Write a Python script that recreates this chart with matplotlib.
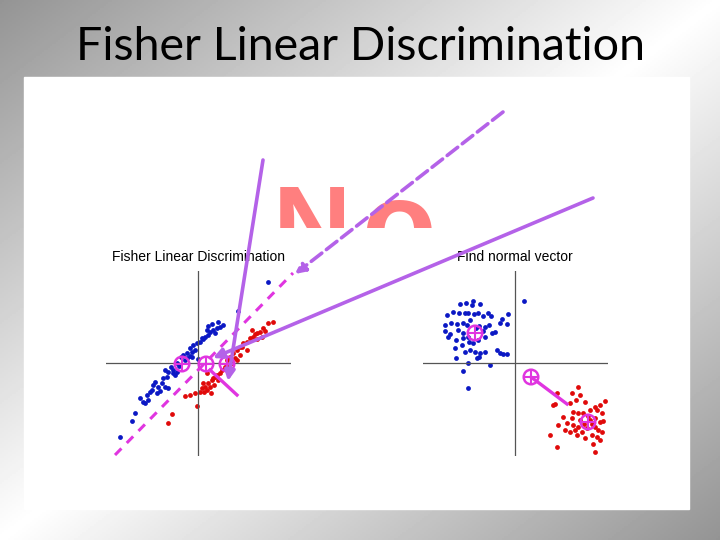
import numpy as np
import matplotlib
matplotlib.use("Agg")
import matplotlib.pyplot as plt

W, H = 720, 540

slide_title = "Fisher Linear Discrimination"
left_title = "Fisher Linear Discrimination"
right_title = "Find normal vector"
watermark = ["N", "o"]

# left panel: two elongated classes (x, y)
left_blue = np.array([
    (7.0, 8.1), (4.0, 5.2), (2.5, 3.8), (2.2, 3.6), (1.9, 3.5), (1.5, 3.3), (1.2, 3.1),
    (1.7, 3.0), (1.0, 2.8), (0.7, 2.6), (0.5, 2.4), (0.9, 3.3), (0.2, 2.1), (-0.1, 2.0),
    (-0.5, 1.8), (-0.8, 1.5), (-0.3, 1.3), (-0.6, 1.1), (-1.1, 1.0), (-1.5, 0.8), (-0.8, 0.7),
    (-1.7, 0.6), (-1.1, 0.5), (-0.6, 0.6), (0.0, 0.4), (-2.1, 0.0), (-2.5, -0.7), (-2.1, -0.9),
    (-3.0, -0.9), (-3.3, -0.7), (-2.3, -1.2), (-3.1, -1.4), (-3.5, -1.5), (-2.5, -1.0),
    (-3.6, -2.0), (-4.0, -2.4), (-3.3, -2.4), (-4.5, -2.2), (-4.6, -2.7), (-5.1, -3.2),
    (-5.5, -3.9), (-5.0, -3.7), (-4.1, -3.0), (-6.3, -5.0), (-6.6, -5.8), (-7.8, -7.4),
    (-3.0, -2.5), (-3.8, -2.8), (-5.3, -4.0), (0.4, 2.5), (-1.3, 0.3), (-1.9, -0.3),
    (-2.7, -0.4), (-4.3, -1.9), (-4.8, -2.9), (-5.8, -3.5), (1.4, 3.9), (2.0, 4.1), (1.0, 3.7),
])
left_red = np.array([
    (7.5, 4.1), (7.0, 4.0), (6.5, 3.5), (6.2, 3.1), (5.9, 3.0), (5.5, 2.6), (5.2, 2.5),
    (4.9, 2.1), (4.5, 2.0), (4.2, 1.6), (3.9, 1.3), (3.5, 1.0), (3.2, 0.6), (2.9, 0.3),
    (2.7, -0.4), (2.4, -0.7), (2.2, -1.0), (1.7, -1.4), (1.4, -1.7), (1.0, -2.0), (0.7, -2.4),
    (0.4, -2.5), (0.2, -2.9), (0.9, -2.7), (1.2, -2.4), (0.5, -2.0), (0.9, -1.0), (-0.3, -3.0),
    (-0.8, -3.2), (-1.3, -3.3), (-0.1, -4.3), (-2.6, -5.1), (-3.0, -6.0), (3.4, 0.0),
    (3.9, 0.3), (4.2, 0.8), (5.4, 3.3), (5.7, 2.9), (6.7, 3.2), (5.9, 2.4), (6.4, 2.6),
    (4.9, 1.3), (4.4, 1.6), (3.7, 0.5), (3.0, -0.4), (1.9, -1.2), (1.5, -1.5), (2.0, -1.7),
    (1.6, -2.2), (0.6, -2.9), (1.3, -3.0),
])
left_means = np.array([(-1.6, -0.1), (0.8, -0.1), (2.9, -0.1)])
left_dash = np.array([(-8.3, -9.2), (9.5, 9.0)])
left_normal = np.array([(1.2, -0.7), (3.9, -3.2)])

# right panel: two round classes
right_blue = np.array([
    (0.9, 6.2), (-5.5, 5.9), (-4.9, 6.0), (-4.2, 6.2), (-3.5, 5.9), (-4.3, 5.8), (-6.8, 4.8),
    (-5.6, 5.0), (-5.0, 5.0), (-4.7, 5.0), (-4.1, 4.9), (-3.7, 5.0), (-3.2, 4.7), (-2.7, 5.0),
    (-2.4, 4.7), (-0.7, 4.9), (-7.0, 3.8), (-6.4, 4.0), (-5.8, 3.9), (-5.2, 4.0), (-4.8, 3.8),
    (-3.6, 3.7), (-3.0, 3.6), (-2.6, 3.8), (-1.5, 4.0), (-1.3, 4.4), (-0.8, 3.9), (-7.0, 3.2),
    (-6.5, 2.9), (-5.7, 3.3), (-5.2, 3.0), (-3.2, 3.2), (-2.3, 3.0), (-2.0, 3.1), (-6.7, 2.6),
    (-5.9, 2.3), (-5.2, 2.5), (-4.7, 2.6), (-4.6, 2.1), (-4.2, 2.0), (-3.7, 2.3), (-3.0, 2.6),
    (-5.3, 1.8), (-6.0, 1.5), (-5.0, 1.1), (-4.5, 1.3), (-4.0, 1.1), (-3.5, 1.0), (-3.0, 1.1),
    (-3.6, 0.6), (-3.8, 0.5), (-1.8, 1.3), (-1.5, 1.0), (-1.2, 0.9), (-0.8, 0.9), (-5.9, 0.5),
    (-4.7, 0.0), (-2.5, -0.2), (-5.2, -0.8), (-4.7, -2.5), (-6.2, 5.1), (-4.5, 4.3), (-3.9, 3.5),
])
right_red = np.array([
    (4.2, -3.0), (6.3, -2.4), (5.7, -3.0), (6.5, -3.2), (6.1, -3.7), (7.0, -3.9), (4.0, -4.1),
    (5.5, -4.0), (9.0, -3.8), (8.5, -4.2), (8.0, -4.4), (5.8, -4.9), (6.3, -5.0), (6.8, -5.0),
    (7.5, -4.7), (8.2, -4.7), (8.7, -5.0), (4.8, -5.4), (5.7, -5.5), (6.5, -5.7), (8.0, -5.5),
    (8.5, -5.9), (8.8, -5.8), (4.3, -6.2), (5.2, -6.0), (5.8, -6.2), (6.3, -6.4), (6.0, -6.7),
    (6.7, -6.9), (7.2, -6.5), (8.0, -6.4), (8.3, -6.7), (8.7, -6.9), (5.0, -6.7), (5.5, -6.9),
    (7.7, -7.2), (8.2, -7.4), (8.5, -7.7), (3.5, -7.2), (4.2, -8.4), (6.2, -7.2), (8.0, -8.9),
    (7.0, -7.5), (3.8, -4.2), (7.5, -5.7), (6.9, -6.1), (7.7, -6.1), (7.3, -5.3), (7.8, -8.1),
])
right_means = np.array([(-4.0, 3.0), (7.3, -5.9), (1.6, -1.4)])
right_normal = np.array([(1.6, -1.4), (5.2, -4.1)])

# slide annotations (pixel positions on the slide): start, end, style
slide_arrows = [
    ((263, 160), (228, 381), "-"),
    ((593, 198), (213, 358), "-"),
    ((503, 112), (295, 274), "--"),
]

fig = plt.figure(figsize=(W / 100, H / 100), dpi=100)

# gray diagonal gradient background
bg = fig.add_axes([0, 0, 1, 1])
gx, gy = np.meshgrid(np.linspace(0, 1, 360), np.linspace(0, 1, 270))
t = np.abs((gx + gy) - 1.0)
bg.imshow(1 - 0.42 * t, cmap="gray", vmin=0, vmax=1, aspect="auto",
          extent=[0, W, H, 0])
bg.add_patch(plt.Rectangle((24, 77), 665, 432, color="white", zorder=2))
bg.set_xlim(0, W)
bg.set_ylim(H, 0)
bg.axis("off")
bg.text(360, 60, slide_title, ha="center", va="baseline", fontsize=33.5,
        family="Lato", color="black")

# watermark clipped at its lower part
wm = fig.add_axes([24 / W, 1 - 228 / H, 665 / W, 151 / H])
wm.set_xlim(24, 689)
wm.set_ylim(228, 77)
wm.axis("off")
wm.patch.set_alpha(0)
wm.text(273, 261, watermark[0], ha="left", va="baseline", fontsize=78,
        family="Liberation Sans", weight="bold", color="#ff7f7f", clip_on=True)
wm.text(361, 266, watermark[1], ha="left", va="baseline", fontsize=88,
        family="Liberation Sans", weight="bold", color="#ff7f7f", clip_on=True)

BLUE = "#0b18c4"
RED = "#e00a0a"
MAG = "#e035e0"


def panel(cx, title):
    ax = fig.add_axes([(cx - 92.5) / W, 1 - 455.5 / H, 185 / W, 185 / H])
    ax.set_xlim(-9.25, 9.25)
    ax.set_ylim(-9.25, 9.25)
    ax.axis("off")
    ax.axhline(0, color="#555555", lw=0.9)
    ax.axvline(0, color="#555555", lw=0.9)
    ax.set_title(title, fontsize=10, family="Liberation Sans", pad=7)
    return ax


axl = panel(198, left_title)
axl.scatter(left_blue[:, 0], left_blue[:, 1], s=12, color=BLUE, lw=0)
axl.scatter(left_red[:, 0], left_red[:, 1], s=12, color=RED, lw=0)
axl.plot(left_dash[:, 0], left_dash[:, 1], color=MAG, lw=2.2, ls=(0, (3, 2.5)),
         clip_on=False)
axl.plot(left_normal[:, 0], left_normal[:, 1], color=MAG, lw=2.4)
axl.scatter(left_means[:, 0], left_means[:, 1], s=110, facecolor="none",
            edgecolor=MAG, lw=1.8, zorder=5)
axl.scatter(left_means[:, 0], left_means[:, 1], s=90, marker="+", color=MAG,
            lw=1.5, zorder=5)

axr = panel(515, right_title)
axr.scatter(right_blue[:, 0], right_blue[:, 1], s=12, color=BLUE, lw=0)
axr.scatter(right_red[:, 0], right_red[:, 1], s=12, color=RED, lw=0)
axr.plot(right_normal[:, 0], right_normal[:, 1], color=MAG, lw=2.4)
axr.scatter(right_means[:, 0], right_means[:, 1], s=110, facecolor="none",
            edgecolor=MAG, lw=1.8, zorder=5)
axr.scatter(right_means[:, 0], right_means[:, 1], s=90, marker="+", color=MAG,
            lw=1.5, zorder=5)

# purple arrows drawn over the slide
ov = fig.add_axes([0, 0, 1, 1])
ov.set_xlim(0, W)
ov.set_ylim(H, 0)
ov.axis("off")
ov.patch.set_alpha(0)
for start, end, style in slide_arrows:
    ov.annotate("", xy=end, xytext=start,
                arrowprops=dict(arrowstyle="-|>", color="#b462e8", lw=2.6,
                                ls=style, mutation_scale=15,
                                shrinkA=0, shrinkB=0))

fig.savefig("out.png", dpi=100)
